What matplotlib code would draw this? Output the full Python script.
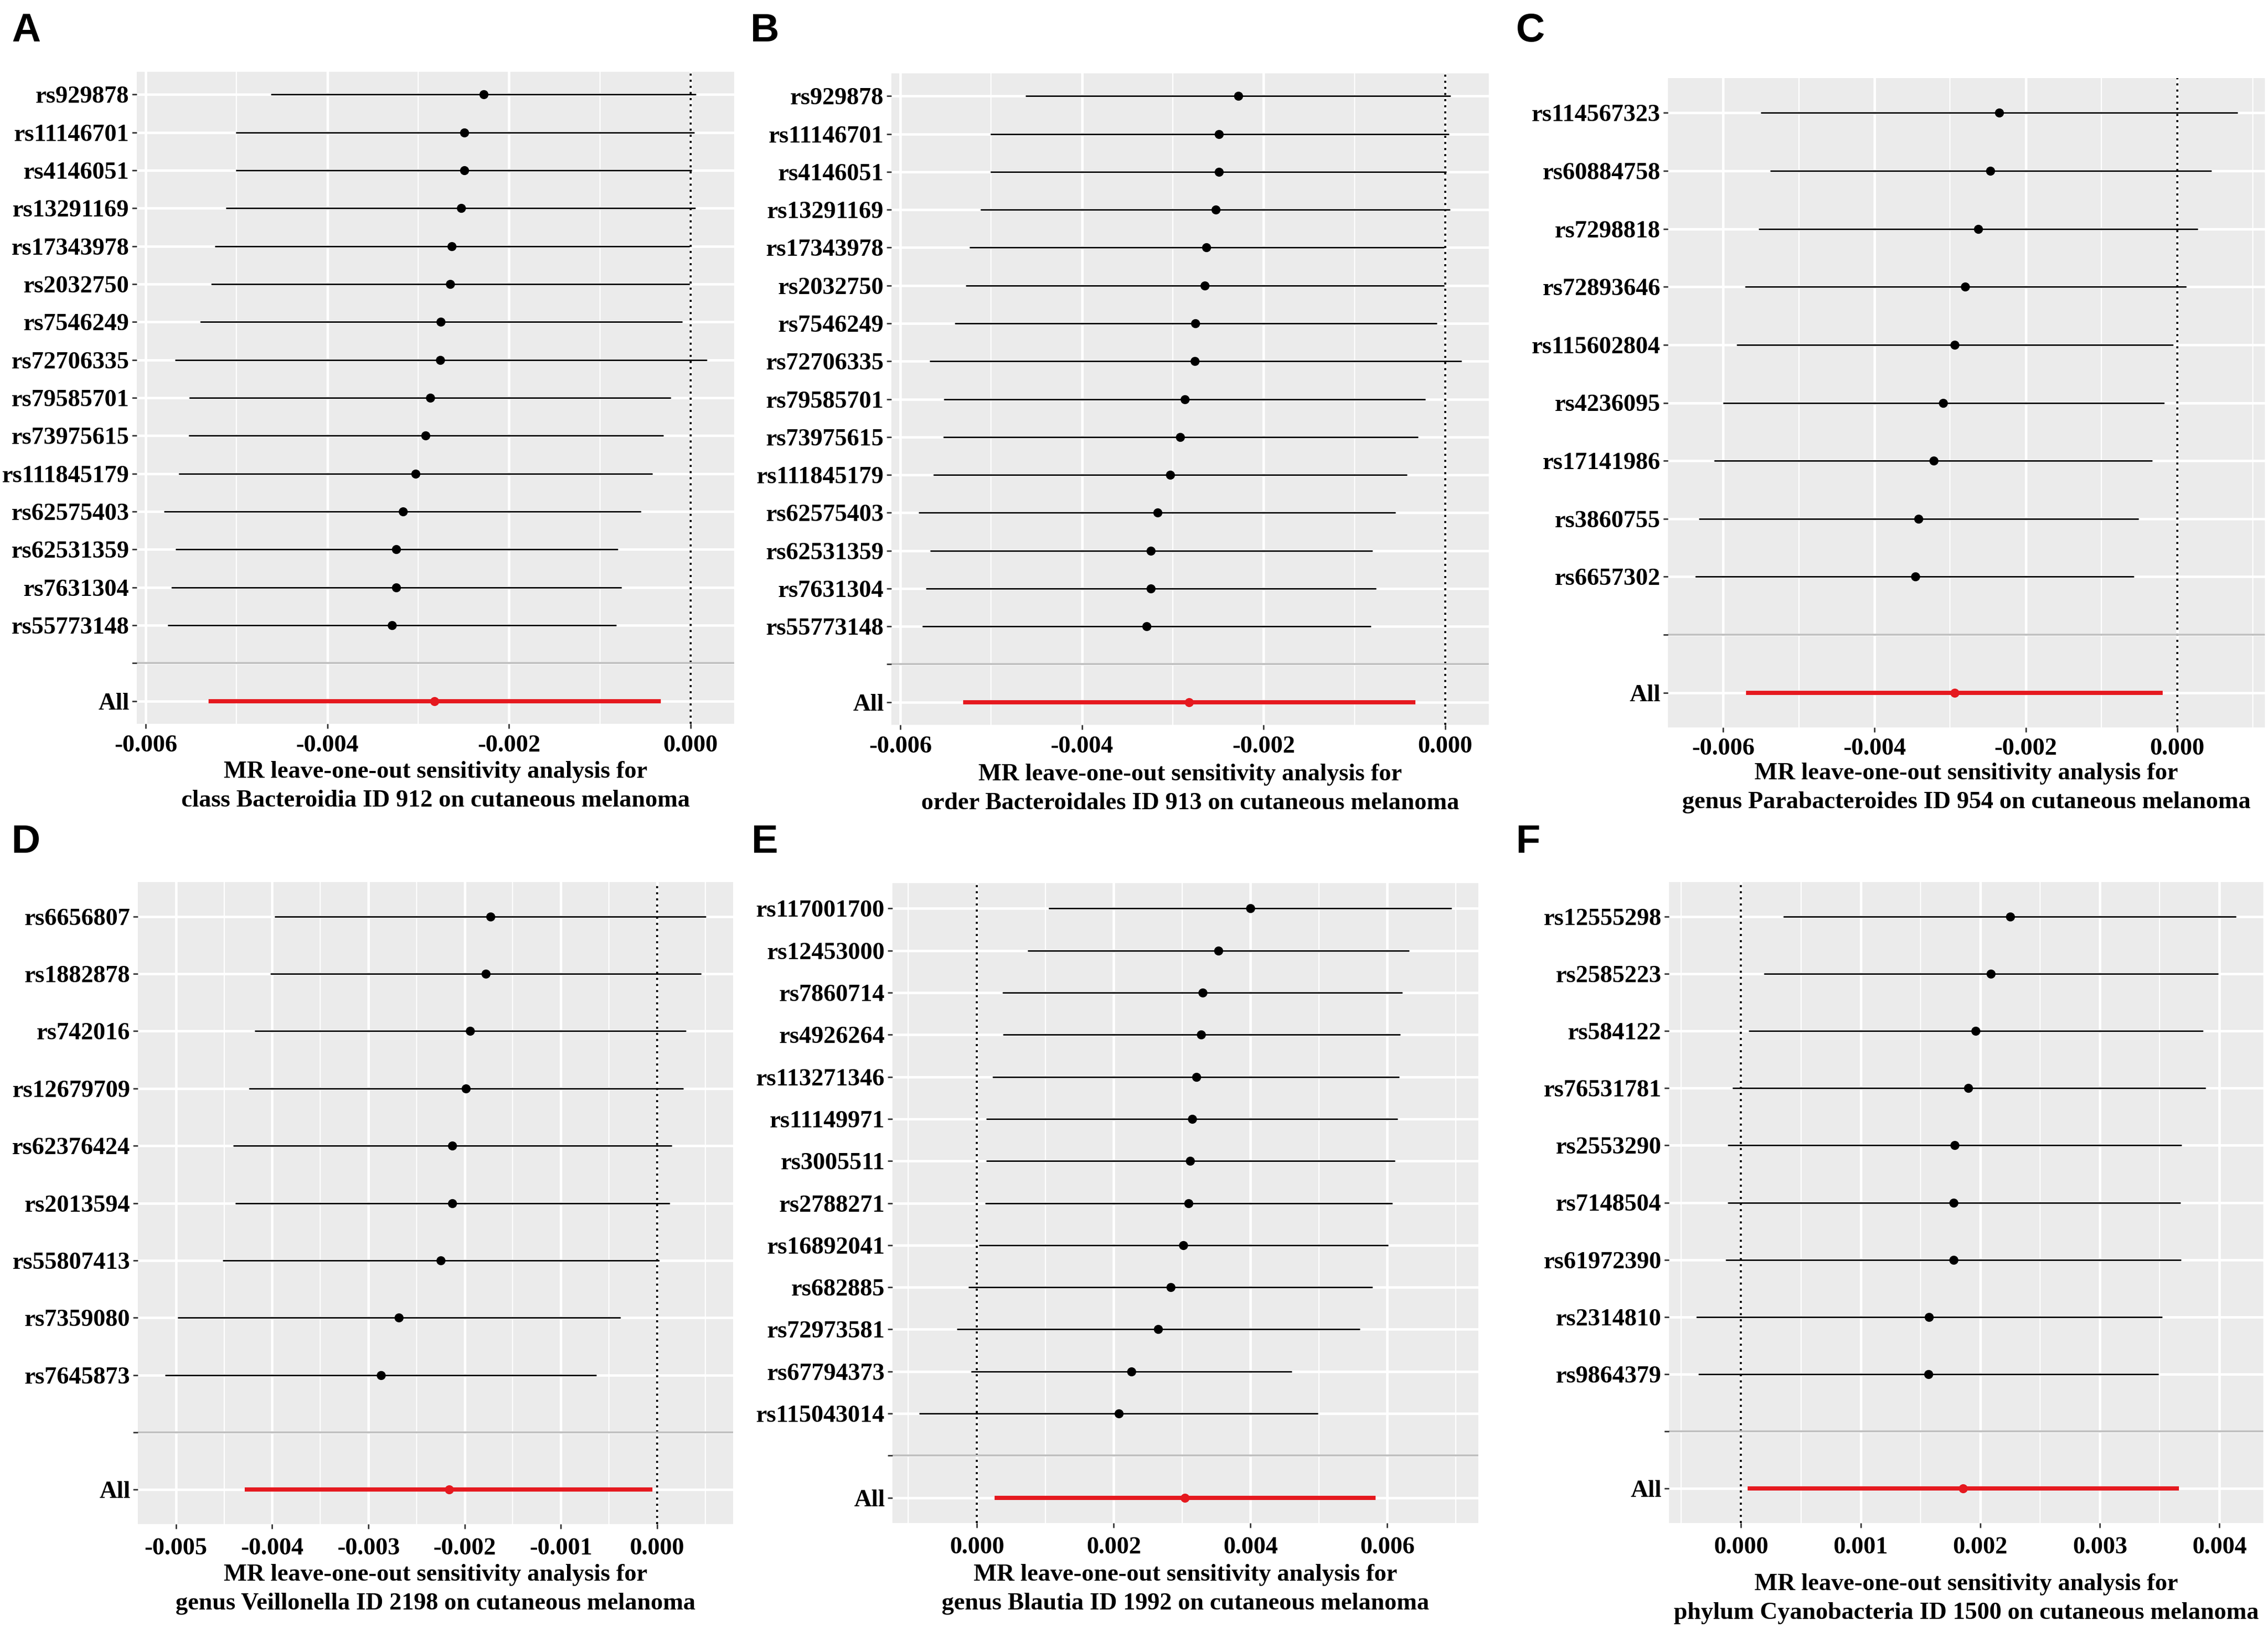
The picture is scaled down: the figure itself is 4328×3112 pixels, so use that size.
import numpy as np
import matplotlib
matplotlib.use('Agg')
import matplotlib.pyplot as plt

W, H = 4328, 3112
DPI = 200

# ---- data (beta x 1e-3): point, lower CI, upper CI ----
A_snps = ['rs929878', 'rs11146701', 'rs4146051', 'rs13291169', 'rs17343978', 'rs2032750',
          'rs7546249', 'rs72706335', 'rs79585701', 'rs73975615', 'rs111845179', 'rs62575403',
          'rs62531359', 'rs7631304', 'rs55773148']
A_b = [-2.28, -2.49, -2.49, -2.53, -2.63, -2.65, -2.75, -2.76, -2.87, -2.92, -3.03, -3.17, -3.24, -3.24, -3.29]
A_lo = [-4.62, -5.01, -5.01, -5.12, -5.24, -5.28, -5.40, -5.68, -5.52, -5.53, -5.64, -5.80, -5.67, -5.72, -5.76]
A_hi = [0.06, 0.04, 0.01, 0.05, -0.01, -0.01, -0.09, 0.18, -0.22, -0.30, -0.42, -0.55, -0.80, -0.76, -0.82]
A_all = [-2.82, -5.31, -0.33]

B_snps = list(A_snps)
B_b = list(A_b)
B_lo = list(A_lo)
B_hi = list(A_hi)
B_all = list(A_all)

C_snps = ['rs114567323', 'rs60884758', 'rs7298818', 'rs72893646', 'rs115602804', 'rs4236095',
          'rs17141986', 'rs3860755', 'rs6657302']
C_b = [-2.35, -2.47, -2.63, -2.80, -2.94, -3.09, -3.22, -3.42, -3.46]
C_lo = [-5.50, -5.38, -5.53, -5.71, -5.82, -6.00, -6.12, -6.32, -6.37]
C_hi = [0.80, 0.45, 0.27, 0.12, -0.05, -0.17, -0.33, -0.51, -0.57]
C_all = [-2.94, -5.70, -0.19]

D_snps = ['rs6656807', 'rs1882878', 'rs742016', 'rs12679709', 'rs62376424', 'rs2013594',
          'rs55807413', 'rs7359080', 'rs7645873']
D_b = [-1.73, -1.78, -1.945, -1.985, -2.13, -2.13, -2.25, -2.685, -2.87]
D_lo = [-3.975, -4.02, -4.18, -4.24, -4.405, -4.385, -4.515, -4.98, -5.115]
D_hi = [0.51, 0.46, 0.30, 0.275, 0.155, 0.13, 0.025, -0.38, -0.63]
D_all = [-2.16, -4.285, -0.045]

E_snps = ['rs117001700', 'rs12453000', 'rs7860714', 'rs4926264', 'rs113271346', 'rs11149971',
          'rs3005511', 'rs2788271', 'rs16892041', 'rs682885', 'rs72973581', 'rs67794373',
          'rs115043014']
E_b = [4.00, 3.53, 3.30, 3.28, 3.21, 3.15, 3.115, 3.094, 3.017, 2.834, 2.65, 2.257, 2.074]
E_lo = [1.048, 0.745, 0.373, 0.38, 0.232, 0.134, 0.134, 0.12, 0.028, -0.12, -0.288, -0.084, -0.844]
E_hi = [6.94, 6.315, 6.22, 6.19, 6.17, 6.15, 6.11, 6.076, 6.01, 5.78, 5.60, 4.606, 4.986]
E_all = [3.04, 0.26, 5.83]

F_snps = ['rs12555298', 'rs2585223', 'rs584122', 'rs76531781', 'rs2553290', 'rs7148504',
          'rs61972390', 'rs2314810', 'rs9864379']
F_b = [2.248, 2.087, 1.961, 1.90, 1.787, 1.779, 1.775, 1.573, 1.565]
F_lo = [0.352, 0.19, 0.065, -0.073, -0.113, -0.113, -0.129, -0.376, -0.356]
F_hi = [4.14, 3.987, 3.862, 3.882, 3.684, 3.672, 3.676, 3.522, 3.49]
F_all = [1.856, 0.057, 3.66]

titles = {
    'A': 'class Bacteroidia ID 912 on cutaneous melanoma',
    'B': 'order Bacteroidales ID 913 on cutaneous melanoma',
    'C': 'genus Parabacteroides ID 954 on cutaneous melanoma',
    'D': 'genus Veillonella ID 2198 on cutaneous melanoma',
    'E': 'genus Blautia ID 1992 on cutaneous melanoma',
    'F': 'phylum Cyanobacteria ID 1500 on cutaneous melanoma',
}

# panel rect in px (left, top, right, bottom), tick step, letter pos, x-title offset, tick pad
layout = {
    'A': ((261, 137, 1401, 1381), 0.002, (22, 30), 92, 4.5),
    'B': ((1701, 140, 2841, 1383), 0.002, (1432, 30), 95, 4.5),
    'C': ((3183, 149, 4322, 1388), 0.002, (2893, 30), 88, 4.0),
    'D': ((263, 1683, 1399, 2908), 0.001, (22, 1578), 97, 6.0),
    'E': ((1703, 1685, 2821, 2906), 0.002, (1434, 1578), 99, 6.0),
    'F': ((3185, 1683, 4319, 2906), 0.001, (2893, 1578), 117, 6.0),
}

panels = {
    'A': (A_snps, A_b, A_lo, A_hi, A_all),
    'B': (B_snps, B_b, B_lo, B_hi, B_all),
    'C': (C_snps, C_b, C_lo, C_hi, C_all),
    'D': (D_snps, D_b, D_lo, D_hi, D_all),
    'E': (E_snps, E_b, E_lo, E_hi, E_all),
    'F': (F_snps, F_b, F_lo, F_hi, F_all),
}

SERIF = ['Liberation Serif', 'DejaVu Serif']
FS = 16.8
RED = '#E5191F'
BG = '#EBEBEB'

fig = plt.figure(figsize=(W / DPI, H / DPI), dpi=DPI)
fig.patch.set_facecolor('white')

for key, (snps, b, lo, hi, allv) in panels.items():
    (l, t, r, bt), step, (lx, ly), toff, tpad = layout[key]
    ax = fig.add_axes([l / W, 1 - bt / H, (r - l) / W, (bt - t) / H])
    ax.set_facecolor(BG)
    for s in ax.spines.values():
        s.set_visible(False)

    b = np.array(b) * 1e-3
    lo = np.array(lo) * 1e-3
    hi = np.array(hi) * 1e-3
    ab, alo, ahi = [v * 1e-3 for v in allv]

    labels = snps + ['', 'All']
    n = len(labels)
    ypos = n - np.arange(n)          # first at top
    y_snp = ypos[:len(snps)]
    y_gap = ypos[len(snps)]
    y_all = ypos[-1]

    xmin = min(lo.min(), alo, 0.0)
    xmax = max(hi.max(), ahi, 0.0)
    pad = 0.05 * (xmax - xmin)
    ax.set_xlim(xmin - pad, xmax + pad)
    ax.set_ylim(0.4, n + 0.6)

    # grid
    k0 = np.ceil((xmin - pad) / step)
    k1 = np.floor((xmax + pad) / step)
    majors = np.arange(k0, k1 + 1) * step
    minors = np.arange(k0 - 1, k1 + 1) * step + step / 2
    minors = minors[(minors > xmin - pad) & (minors < xmax + pad)]
    for m in minors:
        ax.axvline(m, color='white', lw=0.8, zorder=0.5)
    for m in majors:
        ax.axvline(m, color='white', lw=1.7, zorder=0.6)
    for yy in ypos:
        ax.axhline(yy, color='white', lw=1.7, zorder=0.6)

    ax.axvline(0, color='black', lw=1.4, ls=(0, (1, 2)), zorder=1)
    ax.axhline(y_gap, color='#BEBEBE', lw=1.3, zorder=1.5)

    ax.hlines(y_snp, lo, hi, color='black', lw=1.0, zorder=2)
    ax.plot(b, y_snp, 'o', color='black', ms=5.2, zorder=3)
    ax.hlines([y_all], [alo], [ahi], color=RED, lw=2.9, zorder=2)
    ax.plot([ab], [y_all], 'o', color=RED, ms=5.2, zorder=3)

    ax.set_yticks(ypos)
    ax.set_yticklabels(labels, family=SERIF, fontweight='bold', fontsize=FS, color='black')
    ax.set_xticks(majors)
    ax.set_xticklabels([f'{round(v, 6) + 0.0:.3f}' for v in majors],
                       family=SERIF, fontweight='bold', fontsize=FS, color='black')
    ax.tick_params(axis='y', length=3.2, width=1.0, color='#333333', pad=2)
    ax.tick_params(axis='x', length=3.2, width=1.0, color='#333333', pad=tpad)

    cx = (l + r) / 2 / W
    fig.text(cx, 1 - (bt + toff) / H, 'MR leave-one-out sensitivity analysis for',
             family=SERIF, fontweight='bold', fontsize=FS, ha='center', va='center')
    fig.text(cx, 1 - (bt + toff + 55) / H, titles[key],
             family=SERIF, fontweight='bold', fontsize=FS, ha='center', va='center')

    fig.text(lx / W, 1 - (ly - 6) / H, key, family=['Liberation Sans', 'DejaVu Sans'],
             fontweight='bold', fontsize=27.5, va='top', ha='left')

fig.savefig('out.png', dpi=DPI)
